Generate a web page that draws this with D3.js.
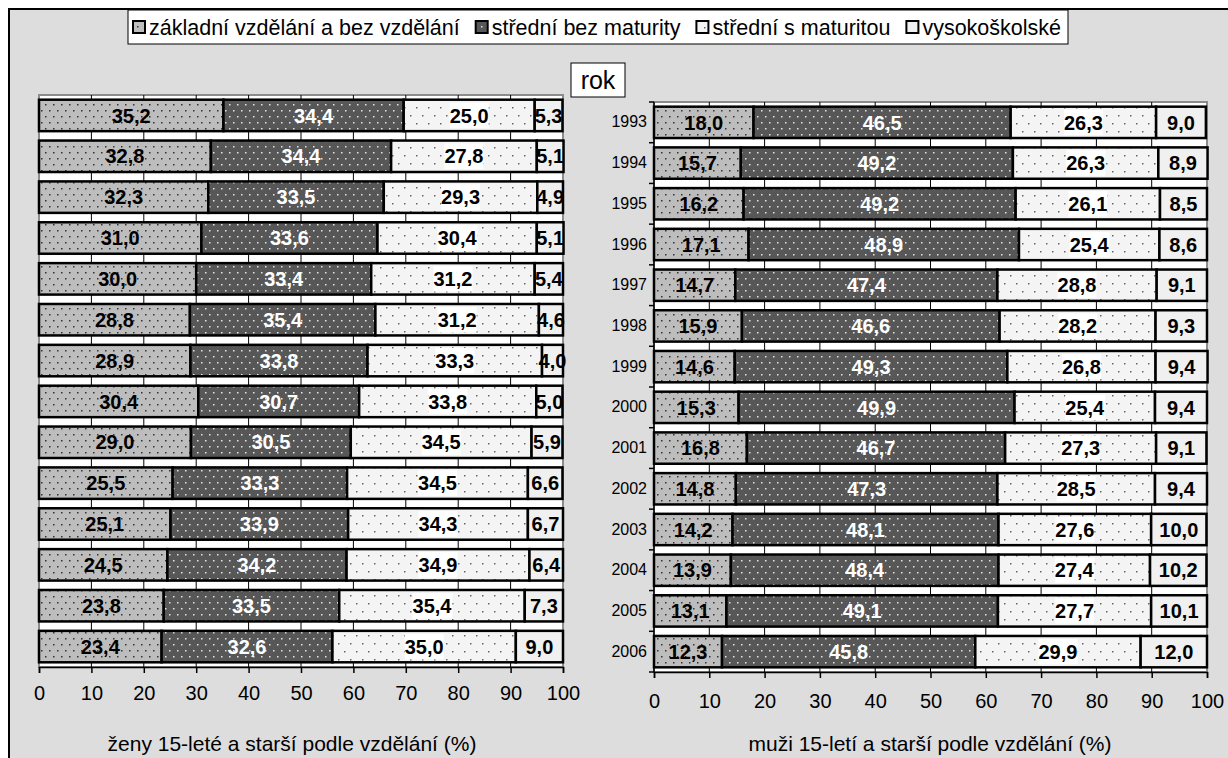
<!DOCTYPE html>
<html>
<head>
<meta charset="utf-8">
<script src="https://cdn.jsdelivr.net/npm/d3@7"></script>
<style>
  body { margin: 0; background: #fff; }
  svg { display: block; font-family: Arial, "Liberation Sans", sans-serif; }
</style>
</head>
<body>
<div id="chart"></div>
<script>
// data
var years = [1993, 1994, 1995, 1996, 1997, 1998, 1999, 2000, 2001, 2002, 2003, 2004, 2005, 2006];
var seriesNames = ['základní vzdělání a bez vzdělání', 'střední bez maturity', 'střední s maturitou', 'vysokoškolské'];

var zenyZakladni = [35.2, 32.8, 32.3, 31.0, 30.0, 28.8, 28.9, 30.4, 29.0, 25.5, 25.1, 24.5, 23.8, 23.4];
var zenyBezMaturity = [34.4, 34.4, 33.5, 33.6, 33.4, 35.4, 33.8, 30.7, 30.5, 33.3, 33.9, 34.2, 33.5, 32.6];
var zenyMaturita = [25.0, 27.8, 29.3, 30.4, 31.2, 31.2, 33.3, 33.8, 34.5, 34.5, 34.3, 34.9, 35.4, 35.0];
var zenyVysoko = [5.3, 5.1, 4.9, 5.1, 5.4, 4.6, 4.0, 5.0, 5.9, 6.6, 6.7, 6.4, 7.3, 9.0];

var muziZakladni = [18.0, 15.7, 16.2, 17.1, 14.7, 15.9, 14.6, 15.3, 16.8, 14.8, 14.2, 13.9, 13.1, 12.3];
var muziBezMaturity = [46.5, 49.2, 49.2, 48.9, 47.4, 46.6, 49.3, 49.9, 46.7, 47.3, 48.1, 48.4, 49.1, 45.8];
var muziMaturita = [26.3, 26.3, 26.1, 25.4, 28.8, 28.2, 26.8, 25.4, 27.3, 28.5, 27.6, 27.4, 27.7, 29.9];
var muziVysoko = [9.0, 8.9, 8.5, 8.6, 9.1, 9.3, 9.4, 9.4, 9.1, 9.4, 10.0, 10.2, 10.1, 12.0];

var xTicks = [0, 10, 20, 30, 40, 50, 60, 70, 80, 90, 100];
var zenyTitle = 'ženy 15-leté a starší podle vzdělání (%)';
var muziTitle = 'muži 15-letí a starší podle vzdělání (%)';

var svgWidth = 1228;
var svgHeight = 758;
var keys = ['s0', 's1', 's2', 's3'];
var fontFam = 'Arial, "Liberation Sans", sans-serif';

var svg = d3.select('#chart')
    .append('svg')
    .attr('width', svgWidth)
    .attr('height', svgHeight);

// fill patterns
var defs = svg.append('defs');
function dotPattern(id, w, h, bg, dot, dots) {
    var p = defs.append('pattern')
        .attr('id', id)
        .attr('patternUnits', 'userSpaceOnUse')
        .attr('width', w)
        .attr('height', h);
    p.append('rect').attr('width', w).attr('height', h).attr('fill', bg);
    dots.forEach(function(d) {
        p.append('rect')
            .attr('x', d[0]).attr('y', d[1])
            .attr('width', 1.5).attr('height', 1.5)
            .attr('fill', dot);
    });
}
dotPattern('p0', 8, 12, '#bdbdbd', '#333', [[1, 2], [5, 8]]);
dotPattern('p1', 8, 12, '#575757', '#e6e6e6', [[1, 2], [5, 8]]);
dotPattern('p2', 12, 16, '#f4f4f4', '#666', [[2, 3], [8, 11]]);
dotPattern('p3', 8, 8, '#f0f0f0', '#f0f0f0', []);

// outer frame
svg.append('rect')
    .attr('x', 9).attr('y', 9)
    .attr('width', svgWidth + 20).attr('height', svgHeight + 20)
    .attr('fill', '#dddddd')
    .attr('stroke', '#000')
    .attr('stroke-width', 2);

function makeRows(a, b, c, d) {
    return years.map(function(y, i) {
        return { rok: y, s0: a[i], s1: b[i], s2: c[i], s3: d[i] };
    });
}

function drawPanel(rows, cfg) {
    var x = d3.scaleLinear().domain([0, 100]).range([cfg.left, cfg.right]);
    var y = d3.scaleBand()
        .domain(years)
        .range([cfg.top, cfg.bottom])
        .paddingInner(0.23)
        .paddingOuter(0.115);

    var g = svg.append('g');

    // plot area
    g.append('rect')
        .attr('x', cfg.left).attr('y', cfg.top)
        .attr('width', cfg.right - cfg.left)
        .attr('height', cfg.bottom - cfg.top)
        .attr('fill', '#fff')
        .attr('stroke', '#8c8c8c')
        .attr('stroke-width', 2);

    // gridlines
    g.selectAll('.grid')
        .data(xTicks.slice(1, -1))
        .enter()
        .append('line')
        .attr('x1', d => x(d)).attr('x2', d => x(d))
        .attr('y1', cfg.top).attr('y2', cfg.bottom)
        .attr('stroke', '#000')
        .attr('stroke-width', 1);

    var stacked = d3.stack().keys(keys)(rows);

    var layers = g.selectAll('.layer')
        .data(stacked)
        .enter()
        .append('g')
        .attr('fill', (d, i) => 'url(#p' + i + ')');

    layers.selectAll('rect')
        .data(d => d)
        .enter()
        .append('rect')
        .attr('x', d => x(d[0]))
        .attr('y', d => y(d.data.rok))
        .attr('width', d => x(d[1]) - x(d[0]))
        .attr('height', y.bandwidth())
        .attr('stroke', '#000')
        .attr('stroke-width', 2.5);

    // value labels
    stacked.forEach(function(layer, li) {
        layer.forEach(function(d) {
            var v = d[1] - d[0];
            var t = g.append('text')
                .attr('x', x((d[0] + d[1]) / 2))
                .attr('y', y(d.data.rok) + y.bandwidth() / 2)
                .attr('dy', '0.36em')
                .attr('text-anchor', 'middle')
                .attr('font-size', '20px')
                .attr('font-weight', 'bold')
                .attr('fill', li === 1 ? '#fff' : '#000')
                .text(v.toFixed(1).replace('.', ','));
            if (li === 2) {
                var bb = t.node().getBBox();
                g.insert('rect', function() { return t.node(); })
                    .attr('x', bb.x).attr('y', y(d.data.rok) + 3)
                    .attr('width', bb.width).attr('height', y.bandwidth() - 6)
                    .attr('fill', '#fff');
            }
        });
    });

    // x axis
    var xAxis = g.append('g')
        .attr('transform', `translate(0, ${cfg.bottom})`)
        .call(d3.axisBottom(x).tickValues(xTicks).tickSize(6).tickPadding(cfg.tickPad).tickSizeOuter(6));
    xAxis.selectAll('text')
        .attr('font-size', '20px')
        .attr('font-family', fontFam)
        .attr('fill', '#000');
    xAxis.selectAll('line, path').attr('stroke', '#000').attr('stroke-width', 1.5);

    // year axis
    if (cfg.showYears) {
        var yAxis = g.append('g')
            .attr('transform', `translate(${cfg.left}, 0)`)
            .call(d3.axisLeft(y).tickSize(0).tickPadding(7));
        yAxis.select('.domain').remove();
        yAxis.selectAll('text')
            .attr('font-size', '16px')
            .attr('font-family', fontFam)
            .attr('fill', '#000');

        var step = y.step();
        var bounds = years.map(yr => y(yr) - step * y.paddingInner() / 2).concat([cfg.bottom]);
        g.append('line')
            .attr('x1', cfg.left).attr('x2', cfg.left)
            .attr('y1', cfg.top).attr('y2', cfg.bottom)
            .attr('stroke', '#000').attr('stroke-width', 1.5);
        g.selectAll('.ytick')
            .data(bounds)
            .enter()
            .append('line')
            .attr('x1', cfg.left - 5).attr('x2', cfg.left)
            .attr('y1', d => d).attr('y2', d => d)
            .attr('stroke', '#000').attr('stroke-width', 1.5);
    }

    // title
    g.append('text')
        .attr('x', cfg.titleX)
        .attr('y', cfg.titleY)
        .attr('text-anchor', 'middle')
        .attr('font-size', '21px')
        .attr('fill', '#000')
        .text(cfg.title);
}

drawPanel(makeRows(zenyZakladni, zenyBezMaturity, zenyMaturita, zenyVysoko), {
    left: 39, right: 563, top: 95, bottom: 667,
    tickPad: 13, showYears: false,
    title: zenyTitle, titleX: 292, titleY: 751
});

drawPanel(makeRows(muziZakladni, muziBezMaturity, muziMaturita, muziVysoko), {
    left: 654, right: 1207, top: 102, bottom: 672,
    tickPad: 16, showYears: true,
    title: muziTitle, titleX: 930, titleY: 751
});

// legend
var legend = svg.append('g');
legend.append('rect')
    .attr('x', 128).attr('y', 10)
    .attr('width', 940).attr('height', 34)
    .attr('fill', '#fff')
    .attr('stroke', '#000')
    .attr('stroke-width', 1);

var legendTexts = seriesNames.map(function(name) {
    return legend.append('text')
        .attr('y', 35)
        .attr('font-size', '21.5px')
        .attr('fill', '#000')
        .text(name);
});
var textTotal = d3.sum(legendTexts, t => t.node().getComputedTextLength());
var markerW = 16;
var legendGap = (1061 - 133 - seriesNames.length * markerW - textTotal) / (seriesNames.length - 1);
var lx = 133;
legendTexts.forEach(function(t, i) {
    legend.append('rect')
        .attr('x', lx).attr('y', 21)
        .attr('width', 12).attr('height', 12)
        .attr('fill', 'url(#p' + i + ')')
        .attr('stroke', '#000')
        .attr('stroke-width', 2);
    t.attr('x', lx + markerW);
    lx += markerW + t.node().getComputedTextLength() + legendGap;
});

// category axis title
svg.append('rect')
    .attr('x', 571).attr('y', 63)
    .attr('width', 54).attr('height', 34)
    .attr('fill', '#fff')
    .attr('stroke', '#000')
    .attr('stroke-width', 1);
svg.append('text')
    .attr('x', 598).attr('y', 89)
    .attr('text-anchor', 'middle')
    .attr('font-size', '25px')
    .attr('fill', '#000')
    .text('rok');
</script>
</body>
</html>
